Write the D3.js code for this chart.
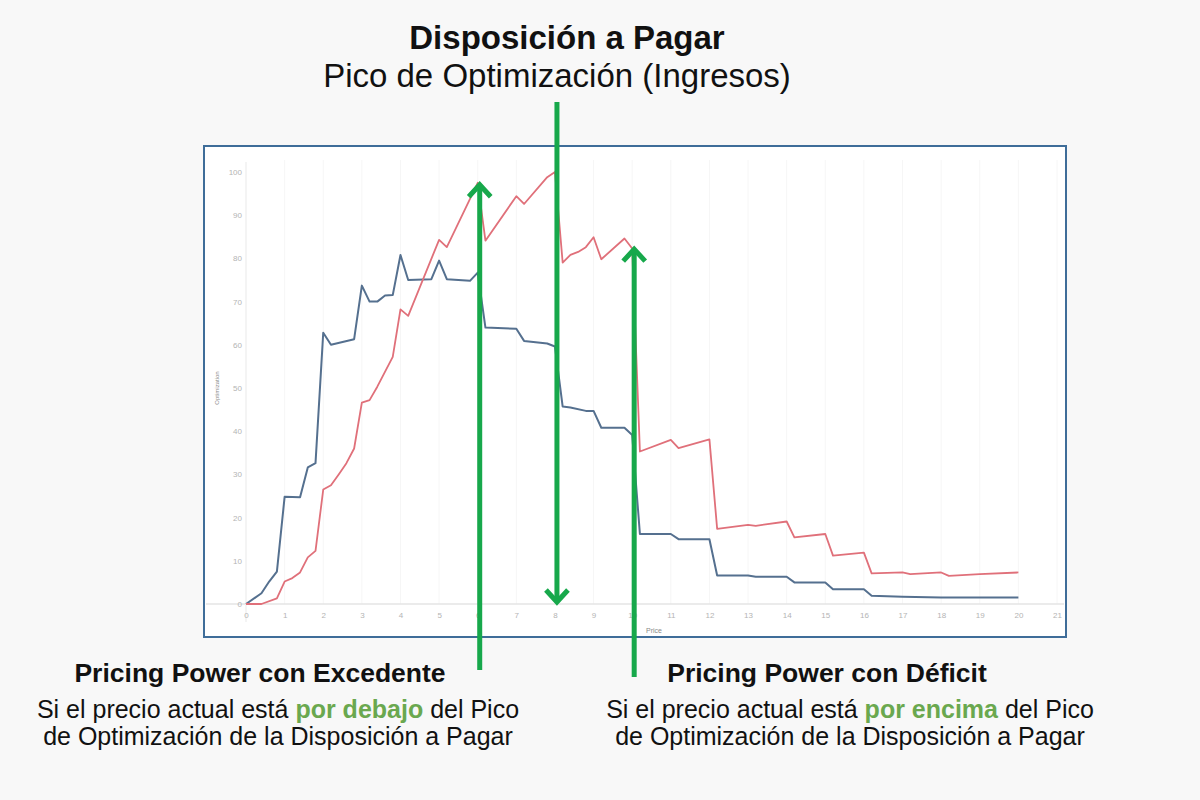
<!DOCTYPE html>
<html>
<head>
<meta charset="utf-8">
<script src="https://cdn.jsdelivr.net/npm/d3@7"></script>
<style>
  html, body { margin: 0; padding: 0; background: #f8f8f8; }
  svg { display: block; font-family: "Liberation Sans", Arial, sans-serif; }
</style>
</head>
<body>
<div id="chart"></div>
<script>
// price / optimization series
const bluePrice = [0, 0.4, 0.6, 0.8, 1.0, 1.4, 1.6, 1.8, 2.0, 2.2, 2.8, 3.0, 3.2, 3.4, 3.6, 3.8, 4.0, 4.2, 4.8, 5.0, 5.2, 5.8, 6.0, 6.2, 7.0, 7.2, 7.8, 8.0, 8.2, 8.4, 8.8, 9.0, 9.2, 9.8, 10.0, 10.2, 11.0, 11.2, 12.0, 12.2, 13.0, 13.2, 14.0, 14.2, 15.0, 15.2, 16.0, 16.2, 17.0, 18.0, 20.0];
const blueValue = [0, 2.5, 5.2, 7.5, 24.8, 24.7, 31.6, 32.6, 62.8, 60.0, 61.3, 73.7, 70.0, 70.0, 71.4, 71.5, 80.8, 75.0, 75.2, 79.5, 75.2, 74.8, 76.7, 64.0, 63.7, 60.9, 60.3, 59.6, 45.7, 45.5, 44.7, 44.7, 40.8, 40.8, 39.1, 16.2, 16.2, 15.0, 15.0, 6.6, 6.6, 6.3, 6.3, 5.0, 5.0, 3.4, 3.4, 1.9, 1.7, 1.5, 1.5];

const redPrice = [0, 0.4, 0.8, 1.0, 1.2, 1.4, 1.6, 1.8, 2.0, 2.2, 2.4, 2.6, 2.8, 3.0, 3.2, 3.4, 3.8, 4.0, 4.2, 5.0, 5.2, 6.0, 6.2, 7.0, 7.2, 7.8, 8.0, 8.2, 8.4, 8.6, 8.8, 9.0, 9.2, 9.8, 10.0, 10.2, 11.0, 11.2, 12.0, 12.2, 13.0, 13.2, 14.0, 14.2, 15.0, 15.2, 16.0, 16.2, 17.0, 17.2, 18.0, 18.2, 19.0, 20.0];
const redValue = [0, 0, 1.3, 5.2, 6.0, 7.3, 10.8, 12.3, 26.5, 27.5, 30.0, 32.6, 36.0, 46.6, 47.2, 50.3, 57.2, 68.2, 66.7, 84.3, 82.6, 97.5, 84.1, 94.4, 92.6, 98.8, 100, 79.0, 80.8, 81.5, 82.6, 84.9, 79.8, 84.6, 82.3, 35.3, 38.0, 36.1, 38.1, 17.4, 18.3, 18.1, 19.1, 15.4, 16.2, 11.2, 11.9, 7.1, 7.3, 6.9, 7.3, 6.5, 6.9, 7.3];

const xTicks = d3.range(0, 22);
const yTicks = d3.range(0, 101, 10);

// arrows: price where they stand, value the head points at
const arrowPrice = [6, 8, 10];
const arrowTip = [97.5, 0, 82.6];

const W = 1200, H = 800;
const svg = d3.select("#chart").append("svg")
    .attr("width", W)
    .attr("height", H);

// chart frame
svg.append("rect")
    .attr("x", 204).attr("y", 146)
    .attr("width", 862).attr("height", 491)
    .attr("fill", "#ffffff")
    .attr("stroke", "#3f6d99")
    .attr("stroke-width", 2);

const x = d3.scaleLinear().domain([0, 21]).range([246, 1057]);
const y = d3.scaleLinear().domain([0, 100]).range([604, 172]);

// faint vertical gridlines
svg.append("g")
    .selectAll("line")
    .data(xTicks.slice(1))
    .join("line")
    .attr("x1", d => x(d)).attr("x2", d => x(d))
    .attr("y1", 160).attr("y2", 604)
    .attr("stroke", "#f6f6f6")
    .attr("stroke-width", 1);

// baseline and y axis line
svg.append("line")
    .attr("x1", 206).attr("x2", 1064)
    .attr("y1", y(0)).attr("y2", y(0))
    .attr("stroke", "#e4e4e4").attr("stroke-width", 1.5);
svg.append("line")
    .attr("x1", x(0)).attr("x2", x(0))
    .attr("y1", 162).attr("y2", 622)
    .attr("stroke", "#f0f0f0").attr("stroke-width", 1.5);

// y axis
const yAxis = svg.append("g")
    .attr("transform", `translate(${x(0) - 4},0)`)
    .call(d3.axisLeft(y).tickValues(yTicks).tickSize(0).tickPadding(0));
yAxis.select(".domain").remove();
yAxis.selectAll("text")
    .attr("fill", "#b4b4b4")
    .style("font-size", "8px");

// x axis
const xAxis = svg.append("g")
    .attr("transform", `translate(0,${y(0) + 6})`)
    .call(d3.axisBottom(x).tickValues(xTicks).tickSize(0).tickPadding(2));
xAxis.select(".domain").remove();
xAxis.selectAll("text")
    .attr("fill", "#b4b4b4")
    .style("font-size", "8px");

svg.append("text")
    .attr("x", 646).attr("y", 633)
    .attr("fill", "#8a8a8a")
    .style("font-size", "7px")
    .text("Price");

svg.append("text")
    .attr("transform", `translate(219,${y(50)}) rotate(-90)`)
    .attr("text-anchor", "middle")
    .attr("fill", "#8a8a8a")
    .style("font-size", "6px")
    .text("Optimization");

// series lines
const line = d3.line().x(d => x(d[0])).y(d => y(d[1]));

svg.append("path")
    .datum(d3.zip(bluePrice, blueValue))
    .attr("fill", "none")
    .attr("stroke", "#55708f")
    .attr("stroke-width", 2)
    .attr("stroke-linejoin", "round")
    .attr("d", line);

svg.append("path")
    .datum(d3.zip(redPrice, redValue))
    .attr("fill", "none")
    .attr("stroke", "#e0707a")
    .attr("stroke-width", 1.8)
    .attr("stroke-linejoin", "round")
    .attr("d", line);

// green arrows
const green = "#17a84b";
const arrowTail = [670, 102, 677];
const arrows = svg.append("g")
    .attr("stroke", green)
    .attr("stroke-width", 5)
    .attr("fill", "none")
    .attr("stroke-linecap", "butt");

arrowPrice.forEach((p, k) => {
    const ax = x(p) + 2;
    const tipY = y(arrowTip[k]);
    const dir = arrowTail[k] > tipY ? 1 : -1; // 1 = pointing up
    arrows.append("line")
        .attr("x1", ax).attr("x2", ax)
        .attr("y1", arrowTail[k]).attr("y2", tipY + dir * 2);
    arrows.append("path")
        .attr("stroke-linejoin", "miter")
        .attr("d", `M ${ax - 11} ${tipY + dir * 14} L ${ax} ${tipY + dir * 2} L ${ax + 11} ${tipY + dir * 14}`);
});

// titles
svg.append("text")
    .attr("x", 567).attr("y", 49)
    .attr("text-anchor", "middle")
    .attr("font-weight", "bold")
    .attr("fill", "#111")
    .style("font-size", "33px")
    .text("Disposición a Pagar");
svg.append("text")
    .attr("x", 557).attr("y", 87)
    .attr("text-anchor", "middle")
    .attr("fill", "#111")
    .style("font-size", "33px")
    .text("Pico de Optimización (Ingresos)");

// bottom captions
function caption(tx, cx, titleText, word) {
    svg.append("text")
        .attr("x", tx).attr("y", 682)
        .attr("text-anchor", "middle")
        .attr("font-weight", "bold")
        .attr("fill", "#111")
        .style("font-size", "26.5px")
        .text(titleText);
    const t1 = svg.append("text")
        .attr("x", cx).attr("y", 718)
        .attr("text-anchor", "middle")
        .attr("fill", "#111")
        .style("font-size", "25px")
        .text("Si el precio actual está ");
    t1.append("tspan").attr("fill", "#6aa84f").attr("font-weight", "bold").text(word);
    t1.append("tspan").text(" del Pico");
    svg.append("text")
        .attr("x", cx).attr("y", 745)
        .attr("text-anchor", "middle")
        .attr("fill", "#111")
        .style("font-size", "25px")
        .text("de Optimización de la Disposición a Pagar");
}
caption(260, 278, "Pricing Power con Excedente", "por debajo");
caption(827, 850, "Pricing Power con Déficit", "por encima");
</script>
</body>
</html>
